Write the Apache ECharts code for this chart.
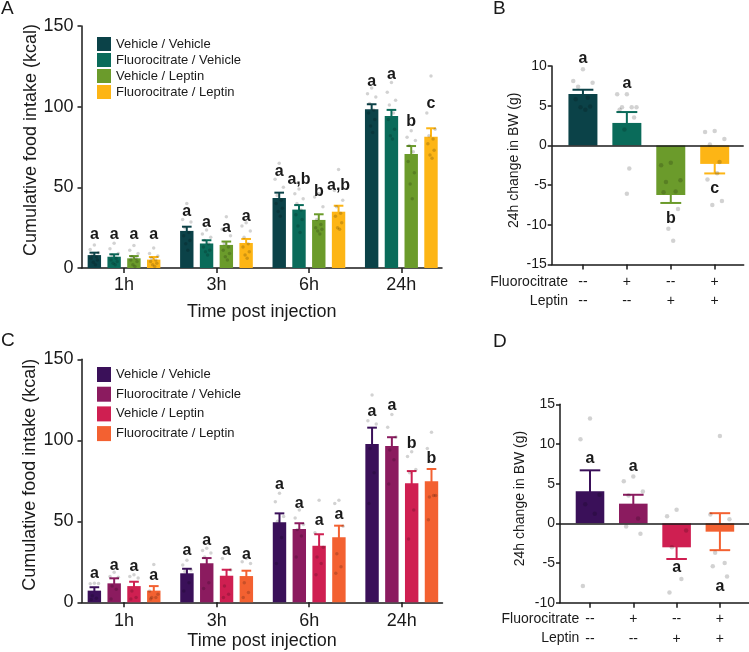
<!DOCTYPE html>
<html><head><meta charset="utf-8">
<script src="https://cdn.jsdelivr.net/npm/echarts@6/dist/echarts.min.js"></script>
<style>html,body{margin:0;padding:0;background:#fff}#c{width:749px;height:652px}</style>
</head><body><div id="c"></div><script>
// ---------- shared labels ----------
const timeLabels = ['1h', '3h', '6h', '24h'];
const groupNames = ['Vehicle / Vehicle', 'Fluorocitrate / Vehicle', 'Vehicle / Leptin', 'Fluorocitrate / Leptin'];
const fluoroRow = ['--', '+', '--', '+'];
const leptinRow = ['--', '--', '+', '+'];
const colorsTop = ['#0b4248', '#0a6b5a', '#6b9b2b', '#fdb515'];
const colorsBottom = ['#3a1059', '#8b1b5f', '#cf1f51', '#f36131'];

// ---------- Panel A: cumulative food intake (kcal), per group over time ----------
const meanA_VV = [8.0, 23.0, 43.4, 98.4];
const meanA_FV = [7.0, 15.2, 36.2, 94.2];
const meanA_VL = [6.0, 14.3, 29.8, 70.7];
const meanA_FL = [5.2, 15.5, 34.9, 81.4];
const semA_VV = [1.5, 2.6, 3.3, 3.1];
const semA_FV = [1.5, 2.0, 2.8, 3.8];
const semA_VL = [1.4, 2.1, 3.5, 4.9];
const semA_FL = [1.6, 2.5, 3.7, 5.2];
const letA_VV = ['a', 'a', 'a', 'a'];
const letA_FV = ['a', 'a', 'a,b', 'a'];
const letA_VL = ['a', 'a', 'b', 'b'];
const letA_FL = ['a', 'a', 'a,b', 'c'];
const letAtA_VV = [20.5, 34.9, 59.7, 115.5];
const letAtA_FV = [20.5, 28.1, 54.6, 119.7];
const letAtA_VL = [20.5, 24.8, 47.1, 90.5];
const letAtA_FL = [20.5, 31.8, 51.0, 101.7];
const dotsA_VV = [[14.3, 11.5, 9.5, 8, 7, 6, 5, 3.5, 2], [40, 30, 28.5, 25, 22, 20, 17, 15, 11], [65, 55, 50, 45, 42, 40, 37, 35, 32], [111.5, 108, 106, 102, 98, 96, 92, 88, 84]];
const dotsA_FV = [[15.3, 12, 9, 8, 6, 5, 4, 3, 2], [23.5, 21, 19, 17, 15, 13, 11, 10, 8], [49, 46, 43, 40, 36, 33, 30, 26, 22], [115, 109, 104, 101, 96, 92, 86, 82, 80]];
const dotsA_VL = [[14, 11, 9, 7, 6, 5, 4, 2, 1], [31.8, 24, 20, 15, 13, 11, 9, 7, 5], [46, 44, 38, 30, 27, 25, 24, 23, 21], [85, 81, 79, 76, 72, 66, 59, 52, 43]];
const dotsA_FL = [[12.4, 9, 7.5, 6, 5, 4, 3, 2, 1], [28, 26, 23, 19, 15, 13, 10, 8, 6], [61, 48, 42, 38, 34, 32, 28, 25, 24], [119, 96, 86, 82, 80, 77, 73, 70, 68]];

// ---------- Panel B: 24h change in BW (g) ----------
const meanB = [6.46, 2.83, -6.25, -2.33];
const semB = [0.55, 1.37, 1.0, 1.2];
const letB = ['a', 'a', 'b', 'c'];
const letAtB = [10.9, 7.8, -9.25, -5.5];
const dotsB = [[9.6, 8.1, 7.9, 7.4, 6.0, 5.8, 4.9, 4.8, 4.5], [6.45, 6.45, 4.8, 4.8, 4.8, 4.5, 3.5, 2.0, -2.9, -6.1], [-2.2, -2.5, -4.4, -4.6, -5.8, -5.9, -8, -10.5, -12], [1.8, 1.7, 0.8, 0.1, -2.1, -4.3, -7.0, -7.5, -3.5]];

// ---------- Panel C: cumulative food intake (kcal) ----------
const meanC_VV = [7.2, 17.9, 49.4, 97.7];
const meanC_FV = [11.7, 24.1, 45.2, 96.5];
const meanC_VL = [10.0, 16.4, 34.9, 73.5];
const meanC_FL = [7.2, 16.2, 40.1, 74.7];
const semC_VV = [2.1, 2.8, 5.5, 10.1];
const semC_FV = [3.1, 3.2, 3.6, 5.4];
const semC_VL = [2.7, 3.7, 7.1, 7.5];
const semC_FL = [2.8, 3.3, 7.2, 7.6];
const letC_VV = ['a', 'a', 'a', 'a'];
const letC_FV = ['a', 'a', 'a', 'a'];
const letC_VL = ['a', 'a', 'a', 'b'];
const letC_FL = ['a', 'a', 'a', 'b'];
const letAtC_VV = [17.5, 31.9, 72.8, 117.7];
const letAtC_FV = [22.4, 38.0, 60.7, 121.2];
const letAtC_VL = [22.0, 31.9, 50.4, 98.1];
const letAtC_FL = [16.4, 29.6, 54.3, 88.9];
const dotsC_VV = [[11.8, 11.5, 11.6, 4, 2.5, 1.8], [26, 23, 20, 19, 12, 7], [67.3, 62, 53, 50, 40, 24], [128, 112, 110, 95, 80, 61]];
const dotsC_FV = [[18.5, 16, 15.5, 10, 8, 2], [33.3, 32, 30.5, 28, 12, 8.5], [57, 52, 48, 45, 41, 28], [116, 108, 102, 94, 88, 73]];
const dotsC_VL = [[17, 16, 15, 7, 3, 2], [33, 27, 20, 10, 5, 3], [63, 43, 34, 28, 24, 17], [93, 90, 82, 80, 57, 39]];
const dotsC_FL = [[23.4, 7, 5, 3, 3, 2], [27, 25, 24, 12, 6, 3], [63, 61, 47, 30, 22, 18], [105, 95, 66, 65, 66, 51]];

// ---------- Panel D: 24h change in BW (g) ----------
const meanD = [4.03, 2.48, -3.02, -1.05];
const semD = [2.65, 1.12, 1.47, 2.33];
const letD = ['a', 'a', 'a', 'a'];
const letAtD = [8.2, 7.2, -5.6, -8.0];
const dotsD = [[13.2, 10.6, 3.6, 2.4, 1.2, -7.9], [5.9, 5.3, 4.0, 3.5, 0.6, -0.4, -1.3], [1.7, 0.9, -0.9, -3.0, -7.0, -8.7], [11, 1.1, 0.5, -3.7, -5.0, -5.4, -6.7]];

// ---------- style ----------
const FONT = '"Liberation Sans", Arial, Helvetica, sans-serif';
const INK = '#1a1a1a';
const DOT = 'rgba(0,0,0,0.22)';
const jitterPattern = [0, -1, 1, -0.5, 0.5, -0.75, 0.75, -0.25, 0.25, 0];

const grids = [], xAxes = [], yAxes = [], series = [];

function barRender(bw, colorOf) {
  return function (params, api) {
    const x = api.value(0), v = api.value(1);
    const a = api.coord([x - bw / 2, 0]), b = api.coord([x + bw / 2, v]);
    return { type: 'rect', shape: { x: a[0], y: Math.min(a[1], b[1]), width: b[0] - a[0], height: Math.abs(b[1] - a[1]) },
      style: { fill: colorOf(params.dataIndex) } };
  };
}
function errRender(capW, colorOf) {
  return function (params, api) {
    const x = api.value(0), v = api.value(1), s = api.value(2);
    const t = api.coord([x, v + s]), b = api.coord([x, v - s]);
    const h = api.size([capW / 2, 0])[0];
    const st = { stroke: colorOf(params.dataIndex), lineWidth: 2 };
    return { type: 'group', children: [
      { type: 'line', shape: { x1: t[0], y1: t[1], x2: b[0], y2: b[1] }, style: st },
      { type: 'line', shape: { x1: t[0] - h, y1: t[1], x2: t[0] + h, y2: t[1] }, style: st },
      { type: 'line', shape: { x1: b[0] - h, y1: b[1], x2: b[0] + h, y2: b[1] }, style: st }
    ] };
  };
}
function sigRender(letters) {
  return function (params, api) {
    const p = api.coord([api.value(0), api.value(1)]);
    return { type: 'text', x: p[0], y: p[1],
      style: { text: letters[params.dataIndex], fill: INK, font: 'bold 16px ' + FONT, align: 'center', verticalAlign: 'middle' } };
  };
}

function axisStyle() { return { show: true, onZero: false, lineStyle: { color: INK, width: 1.5 } }; }

function addPanel(p) {
  const gi = grids.length;
  grids.push(p.grid);
  xAxes.push({
    type: 'value', gridIndex: gi, min: p.xmin, max: p.xmax,
    axisLine: axisStyle(),
    axisTick: { show: true, customValues: [0, 1, 2, 3], length: 5, lineStyle: { color: INK, width: 1.5 } },
    axisLabel: { show: true, customValues: [0, 1, 2, 3], formatter: p.xFormatter, margin: p.xMargin,
      fontFamily: FONT, fontSize: p.xfs, color: INK, lineHeight: p.xLineHeight },
    splitLine: { show: false },
    name: p.xName || '', nameLocation: 'middle', nameGap: p.xNameGap || 0,
    nameTextStyle: { fontFamily: FONT, fontSize: p.fs, color: INK }
  });
  yAxes.push({
    type: 'value', gridIndex: gi, min: p.ymin, max: p.ymax, interval: p.interval,
    axisLine: axisStyle(),
    axisTick: { show: true, length: 4, lineStyle: { color: INK, width: 1.5 } },
    axisLabel: { fontFamily: FONT, fontSize: p.fs, color: INK, margin: p.yMargin },
    splitLine: { show: false },
    name: p.yName, nameLocation: 'middle', nameGap: p.yGap,
    nameTextStyle: { fontFamily: FONT, fontSize: p.fs, color: INK, padding: [0, 0, 0, p.yShift * 2] }
  });
  p.groups.forEach(function (g, gIdx) {
    const ax = { xAxisIndex: gi, yAxisIndex: gi };
    series.push(Object.assign({
      type: 'custom', name: g.name + '-err', z: 1, silent: true,
      renderItem: errRender(p.bw * 0.72, g.colorOf),
      data: g.items.map(it => [it.x, it.mean, it.sem])
    }, ax));
    series.push(Object.assign({
      type: 'custom', name: g.name, z: 2, itemStyle: { color: g.legendColor },
      renderItem: barRender(p.bw, g.colorOf),
      data: g.items.map(it => [it.x, it.mean])
    }, ax));
    const dd = [];
    g.items.forEach(it => it.dots.forEach((v, k) => dd.push([it.x + jitterPattern[k % jitterPattern.length] * p.jit, v])));
    const sc = Object.assign({
      type: 'scatter', name: g.name + '-dots', z: 3, silent: true, symbolSize: p.dotSize,
      itemStyle: { color: DOT }, data: dd
    }, ax);
    if (p.zeroLine && gIdx === 0) {
      sc.markLine = { silent: true, symbol: 'none', label: { show: false },
        lineStyle: { color: INK, width: 1.5, type: 'solid' }, data: [{ yAxis: 0 }] };
    }
    series.push(sc);
    series.push(Object.assign({
      type: 'custom', name: g.name + '-sig', z: 4, silent: true,
      renderItem: sigRender(g.items.map(it => it.letter)),
      data: g.items.map(it => [it.x, it.letterAt])
    }, ax));
  });
}

const grpBarW = 0.145, grpStep = 0.214;
function groupedGroups(colors, means, sems, dots, lets, letAts) {
  return groupNames.map((nm, g) => ({
    name: nm, legendColor: colors[g], colorOf: () => colors[g],
    items: means[g].map((m, t) => ({ x: t + (g - 1.5) * grpStep, mean: m, sem: sems[g][t], dots: dots[g][t], letter: lets[g][t], letterAt: letAts[g][t] }))
  }));
}
function singleGroup(colors, means, sems, dots, lets, letAts) {
  return [{ name: 'bw', legendColor: colors[0], colorOf: i => colors[i],
    items: means.map((m, t) => ({ x: t, mean: m, sem: sems[t], dots: dots[t], letter: lets[t], letterAt: letAts[t] })) }];
}

// Panel A
addPanel({
  grid: { left: 81.5, top: 26, width: 360.5, height: 242 }, xmin: -0.46, xmax: 3.44, ymin: 0, ymax: 150, interval: 50,
  fs: 18, xfs: 18, yName: 'Cumulative food intake (kcal)', yGap: 41, yShift: 7, yMargin: 8,
  xFormatter: v => timeLabels[Math.round(v)], xMargin: 8, xName: 'Time post injection', xNameGap: 35,
  bw: grpBarW, jit: 0.045, dotSize: 3.5,
  groups: groupedGroups(colorsTop, [meanA_VV, meanA_FV, meanA_VL, meanA_FL], [semA_VV, semA_FV, semA_VL, semA_FL],
    [dotsA_VV, dotsA_FV, dotsA_VL, dotsA_FL], [letA_VV, letA_FV, letA_VL, letA_FL], [letAtA_VV, letAtA_FV, letAtA_VL, letAtA_FL])
});
// Panel B
addPanel({
  grid: { left: 551.7, top: 66, width: 192, height: 198.5 }, xmin: -0.711, xmax: 3.66, ymin: -15, ymax: 10, interval: 5,
  fs: 14, xfs: 14, xLineHeight: 19, yName: '24h change in BW (g)', yGap: 31, yShift: 5, yMargin: 5,
  xFormatter: v => fluoroRow[Math.round(v)] + '\n' + leptinRow[Math.round(v)], xMargin: 8,
  bw: 0.66, jit: 0.22, dotSize: 4.5, zeroLine: true,
  groups: singleGroup(colorsTop, meanB, semB, dotsB, letB, letAtB)
});
// Panel C
addPanel({
  grid: { left: 81.5, top: 359.3, width: 361, height: 243 }, xmin: -0.46, xmax: 3.44, ymin: 0, ymax: 150, interval: 50,
  fs: 18, xfs: 18, yName: 'Cumulative food intake (kcal)', yGap: 42, yShift: 6, yMargin: 8,
  xFormatter: v => timeLabels[Math.round(v)], xMargin: 10, xName: 'Time post injection', xNameGap: 30,
  bw: grpBarW, jit: 0.045, dotSize: 3.5,
  groups: groupedGroups(colorsBottom, [meanC_VV, meanC_FV, meanC_VL, meanC_FL], [semC_VV, semC_FV, semC_VL, semC_FL],
    [dotsC_VV, dotsC_FV, dotsC_VL, dotsC_FL], [letC_VV, letC_FV, letC_VL, letC_FL], [letAtC_VV, letAtC_FV, letAtC_VL, letAtC_FL])
});
// Panel D
addPanel({
  grid: { left: 560, top: 404.3, width: 189, height: 198.4 }, xmin: -0.693, xmax: 3.672, ymin: -10, ymax: 15, interval: 5,
  fs: 14, xfs: 14, xLineHeight: 19.3, yName: '24h change in BW (g)', yGap: 33, yShift: 5, yMargin: 5,
  xFormatter: v => fluoroRow[Math.round(v)] + '\n' + leptinRow[Math.round(v)], xMargin: 7,
  bw: 0.66, jit: 0.22, dotSize: 4.5, zeroLine: true,
  groups: singleGroup(colorsBottom, meanD, semD, dotsD, letD, letAtD)
});

function legendFor(colors, top, itemHeight, gap) {
  return {
    left: 92, top: top, orient: 'vertical', itemWidth: 14, itemHeight: itemHeight, itemGap: gap, selectedMode: false,
    textStyle: { fontFamily: FONT, fontSize: 13, color: INK },
    data: groupNames.map((n, i) => ({ name: n, icon: 'rect', itemStyle: { color: colors[i] } }))
  };
}

function txt(x, y, s, size, align) {
  return { type: 'text', x: x, y: y, silent: true,
    style: { text: s, fill: INK, font: size + 'px ' + FONT, align: align || 'left', verticalAlign: 'middle' } };
}

const chart = echarts.init(document.getElementById('c'));
chart.setOption({
  backgroundColor: '#fff',
  animation: false,
  grid: grids, xAxis: xAxes, yAxis: yAxes, series: series,
  legend: [legendFor(colorsTop, 32, 14, 2), legendFor(colorsBottom, 362, 15, 4.7)],
  graphic: [
    txt(1, 9, 'A', 19), txt(493, 9, 'B', 19), txt(1, 341, 'C', 19), txt(493, 342, 'D', 19),
    txt(568, 281.7, 'Fluorocitrate', 14, 'right'), txt(568, 300.7, 'Leptin', 14, 'right'),
    txt(579.3, 619, 'Fluorocitrate', 14, 'right'), txt(579.3, 638.3, 'Leptin', 14, 'right')
  ]
});
</script></body></html>
